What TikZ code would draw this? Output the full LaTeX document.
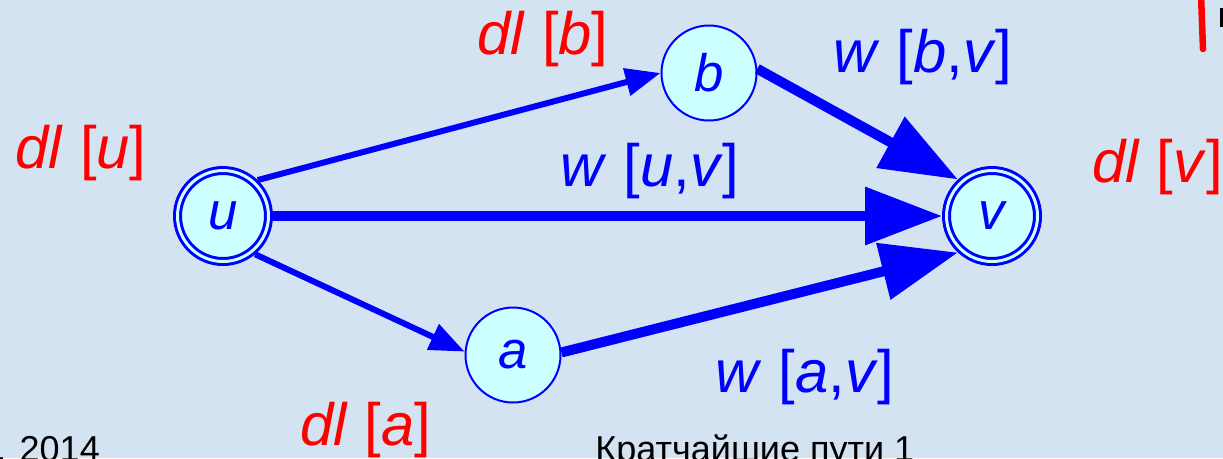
\documentclass[tikz,border=0pt]{standalone}
\usepackage{fontspec}
\setmainfont{Liberation Sans}
\usetikzlibrary{arrows.meta}
\definecolor{cBg}{HTML}{D4E3F2}
\definecolor{cVtx}{HTML}{CCFFFF}
\definecolor{cEdge}{HTML}{0000FF}
\definecolor{cDist}{HTML}{FF0000}
\tikzset{
  vtx/.style={circle, draw=cEdge, fill=cVtx, line width=0.04cm, minimum size=1.9cm,
              inner sep=0pt, font=\fontsize{30}{34}\selectfont\itshape, text=cEdge},
  vtxd/.style={vtx, line width=0.06cm, double=cVtx, double distance=0.06cm,
               minimum size=1.82cm, outer sep=0.09cm},
  earr/.style={-{Triangle[length=0.7cm,width=0.54cm]}, line width=0.12cm, draw=cEdge},
  earrb/.style={-{Triangle[length=1.54cm,width=1.12cm]}, line width=0.2cm, draw=cEdge},
  dlbl/.style={font=\fontsize{34}{40}\selectfont, text=cDist, inner sep=0pt},
  wlbl/.style={font=\fontsize{34}{40}\selectfont, text=cEdge, inner sep=0pt},
  foot/.style={font=\fontsize{20.5}{24}\selectfont, inner sep=0pt},
}

\begin{document}
\begin{tikzpicture}[x=0.02cm, y=-0.02cm]
\fill[cBg] (0,0) rectangle (1223,458);
\useasboundingbox (0,0) rectangle (1223,458);
% vertices
\node[vtxd] (u) at (223,216) {u};
\node[vtxd] (v) at (992,216) {v};
\node[vtx] (b) at (709,73) {b};
\node[vtx] (a) at (513,355) {a};
% edges
\draw[earr] (u.46) -- (b.west);
\draw[earr] (u.-50) -- (a.176);
\draw[earrb] (u) -- (v);
\draw[earrb] (b.5) -- (v.133);
\draw[earrb] (a.3) -- (v.227);
% labels
\node[dlbl] (dlu) at (81,153) {\textit{dl} [\textit{u}]};
\node[dlbl] (dlb) at (543,39) {\textit{dl} [\textit{b}]};
\node[dlbl, anchor=west] (dlv) at (1092,167) {\textit{dl} [\textit{v}]};
\node[dlbl, anchor=north west] (dla) at (300,402) {\textit{dl} [\textit{a}]};
\node[wlbl] (wbv) at (923,57) {\textit{w} [\textit{b},\textit{v}]};
\node[wlbl] (wuv) at (650,171) {\textit{w} [\textit{u},\textit{v}]};
\node[wlbl] (wav) at (805,377) {\textit{w} [\textit{a},\textit{v}]};
% footer
\node[foot, anchor=base west] (yr) at (-4,461) {. 2014};
\node[foot, anchor=base west] (ttl) at (595,461) {Кратчайшие пути 1};
\draw[cDist, line width=0.13cm, line cap=round] (1201,-5) -- (1203,49);
\fill (1220,8) rectangle (1224,27);
\end{tikzpicture}
\end{document}
